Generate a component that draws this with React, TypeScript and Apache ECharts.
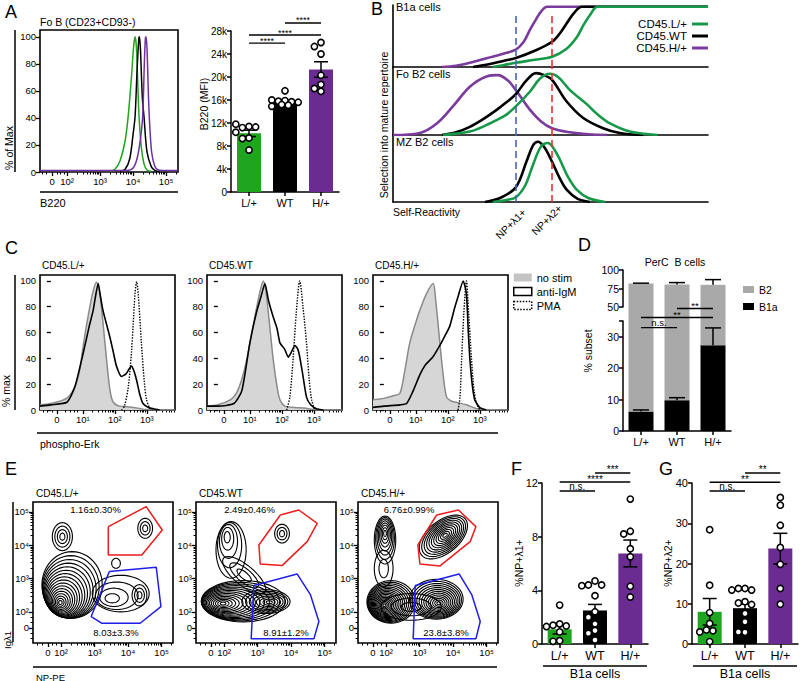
import React, { useEffect, useRef } from 'react';
import * as echarts from 'echarts';

const FONT = '"Liberation Sans", Arial, Helvetica, "DejaVu Sans", sans-serif';

// ================= Panel A =================
const aHistGreen = [[3.3, 0.5], [3.45, 2], [3.6, 8], [3.75, 22], [3.85, 41], [3.95, 70], [4.02, 94], [4.06, 100], [4.1, 92], [4.18, 41], [4.25, 18], [4.33, 6], [4.42, 1.5], [4.55, 0.5]];
const aHistBlack = [[3.6, 0.5], [3.76, 2], [3.9, 10], [4.0, 28], [4.06, 41], [4.12, 75], [4.17, 98], [4.19, 100], [4.22, 92], [4.28, 55], [4.33, 41], [4.42, 15], [4.55, 4], [4.67, 1], [4.8, 0.5]];
const aHistPurple = [[1.18, 1.2], [3.8, 1.2], [4.0, 3], [4.12, 10], [4.22, 24], [4.29, 41], [4.34, 80], [4.37, 98], [4.39, 100], [4.42, 92], [4.46, 60], [4.49, 41], [4.56, 15], [4.66, 4], [4.76, 1.5], [4.9, 1.2], [5.36, 1.2]];
const groups = ['L/+', 'WT', 'H/+'];
const aMeans = [10200, 15600, 21300];
const aSem = [550, 300, 1350];
const aPoints = [
  [11400, 11200, 11300, 11800, 9400, 9300, 10400, 7300],
  [17600, 15900, 15800, 15700, 16000, 15600, 15200, 14900, 15100],
  [26000, 25300, 24000, 20300, 18700, 17500, 18000],
];
const aSig: [number, number, number, string][] = [[1, 2, 29400, '****'], [0, 2, 27300, '****'], [0, 1, 25900, '****']];

// ================= Panel B =================
const bLegend = ['CD45.L/+', 'CD45.WT', 'CD45.H/+'];
const b1aGreen = [[31.7, 0], [35, 0.03], [39, 0.07], [45, 0.12], [50.5, 0.17], [55, 0.3], [58.4, 0.5], [60.5, 0.7], [62.5, 0.86], [65, 1], [100, 1]];
const b1aBlack = [[25.4, 0], [30, 0.04], [35, 0.1], [39, 0.15], [45, 0.27], [50.5, 0.42], [53, 0.56], [55.2, 0.73], [57.5, 0.9], [60, 1], [100, 1]];
const b1aPurple = [[15.6, 0], [20, 0.02], [24.4, 0.07], [30, 0.15], [35, 0.22], [39, 0.29], [41.5, 0.42], [43.5, 0.62], [45.5, 0.8], [47, 0.92], [48.9, 1], [100, 1]];
const foGreen = [[15.9, 0], [20, 0.02], [24.4, 0.05], [28.5, 0.12], [32.9, 0.22], [36, 0.3], [39, 0.42], [43.5, 0.64], [46.7, 0.83], [49.8, 0.9], [52.5, 0.85], [56.2, 0.66], [61.6, 0.45], [65, 0.3], [68.9, 0.17], [75.2, 0.05], [84, 0]];
const foBlack = [[15.6, 0], [20, 0.04], [24.4, 0.12], [28.5, 0.23], [32.9, 0.37], [36, 0.48], [39, 0.6], [42.3, 0.8], [45.4, 0.91], [48, 0.88], [50.5, 0.81], [55, 0.5], [60.4, 0.25], [66.7, 0.1], [72, 0.03], [79.4, 0]];
const foPurple = [[0, 0], [8.5, 0.03], [13.9, 0.17], [19, 0.42], [24.4, 0.71], [29.7, 0.86], [33.3, 0.88], [36.5, 0.8], [39, 0.66], [43.5, 0.37], [47, 0.2], [50.5, 0.1], [56.2, 0.04], [62, 0.01], [68, 0]];
const mzGreen = [[31.7, 0], [36, 0.03], [39, 0.07], [42, 0.25], [44.4, 0.55], [47, 0.83], [49.2, 0.88], [51, 0.8], [53, 0.63], [55.5, 0.38], [58.4, 0.18], [62, 0.06], [67.3, 0]];
const mzBlack = [[29.2, 0], [34, 0.06], [39, 0.22], [42.5, 0.62], [44.5, 0.85], [46, 0.9], [48, 0.82], [50.5, 0.6], [53, 0.35], [55.2, 0.18], [58.5, 0.05], [62.5, 0]];
const bNp1 = 39;
const bNp2 = 50.5;

// ================= Panel C =================
const cNames = ['CD45.L/+', 'CD45.WT', 'CD45.H/+'];
const cNoStim = [
  [[-0.34, 4], [0, 5], [0.49, 9], [0.75, 18], [0.9, 31], [1.0, 48], [1.11, 65], [1.3, 90], [1.43, 99], [1.53, 90], [1.62, 70], [1.74, 39], [1.85, 15], [1.95, 6], [2.15, 3], [2.37, 2.6], [2.6, 2], [2.8, 1], [3.0, 0.3], [3.88, 0]],
  [[-0.34, 3], [0, 4], [0.4, 8], [0.58, 13], [0.75, 24], [0.9, 39], [1.1, 65], [1.3, 90], [1.42, 100], [1.5, 92], [1.6, 70], [1.73, 39], [1.85, 18], [1.94, 8], [2.1, 3], [2.4, 2], [2.7, 1.5], [3.0, 0.3], [3.88, 0]],
  [[-0.34, 8], [0, 9], [0.3, 11], [0.5, 13], [0.65, 30], [0.81, 52], [1.0, 68], [1.12, 77], [1.33, 90], [1.54, 98], [1.62, 85], [1.75, 52], [1.85, 28], [1.96, 10], [2.1, 7], [2.27, 6], [2.58, 4], [2.9, 1], [3.1, 0.3], [3.88, 0]],
];
const cAntiIgM = [
  [[-0.34, 3], [0, 4], [0.5, 6], [0.75, 18], [1.01, 44], [1.2, 65], [1.32, 77], [1.48, 98], [1.55, 88], [1.63, 77], [1.84, 57], [1.95, 45], [2.05, 34], [2.21, 26], [2.35, 28], [2.45, 32], [2.52, 34], [2.6, 30], [2.68, 23], [2.78, 12], [2.88, 5], [3.05, 2], [3.2, 1], [3.4, 0]],
  [[-0.34, 3], [0, 3], [0.5, 5], [0.75, 15], [1.0, 52], [1.2, 75], [1.35, 88], [1.47, 98], [1.58, 85], [1.73, 72], [1.85, 63], [1.94, 52], [2.09, 47], [2.2, 41], [2.3, 45], [2.41, 50], [2.5, 47], [2.56, 41], [2.65, 28], [2.77, 10], [2.9, 4], [3.08, 1], [3.3, 0]],
  [[-0.34, 2], [0, 3], [0.5, 4], [0.71, 5], [0.9, 14], [1.12, 27], [1.3, 35], [1.53, 41], [1.75, 50], [1.9, 57], [2.06, 65], [2.2, 78], [2.32, 88], [2.48, 100], [2.58, 90], [2.64, 60], [2.69, 39], [2.76, 20], [2.84, 8], [2.99, 2], [3.2, 0]],
];
const cPMA = [
  [[2.21, 0], [2.3, 3], [2.42, 18], [2.52, 45], [2.57, 65], [2.63, 90], [2.68, 99.5], [2.73, 90], [2.83, 52], [2.92, 22], [2.99, 8], [3.08, 2], [3.15, 0]],
  [[2.15, 0], [2.25, 10], [2.35, 39], [2.45, 75], [2.56, 100], [2.66, 80], [2.77, 52], [2.85, 25], [2.93, 8], [3.03, 0]],
  [[2.32, 0], [2.38, 10], [2.43, 39], [2.5, 75], [2.58, 100], [2.65, 75], [2.74, 39], [2.82, 15], [2.9, 5], [3.0, 0]],
];

// ================= Panel D =================
const dB1a = [6.2, 9.8, 27.3];
const dB1aErr = [0.5, 0.8, 5.5];
const dTotal = [81.8, 80.4, 80.0];
const dTotalErr = [0.4, 2.6, 7.0];
const dSig: [number, number, number, string][] = [[0, 1, 32.9, 'n.s.'], [0, 2, 36.1, '**'], [1, 2, 39.0, '**']];

// ================= Panel E =================
// contour populations: core x, core y, outer-ring shift x, shift y, outer rx, outer ry, rings, angle
const eNames = ['CD45.L/+', 'CD45.WT', 'CD45.H/+'];
const eBlobs = [
  [
    [1.98, 2.28, 0.35, 0.53, 0.9, 1.0, 17, 0],
    [2.04, 4.26, 0, 0, 0.3, 0.42, 4, 0],
    [3.64, 3.46, 0, 0, 0.13, 0.15, 1, 0],
    [3.51, 2.4, 0.27, 0.15, 0.85, 0.55, 4, 0],
    [4.34, 2.5, 0, 0, 0.22, 0.32, 3, 0],
    [4.51, 4.51, 0, 0, 0.22, 0.3, 3, 0],
  ],
  [
    [1.97, 2.25, 0.6, 0.07, 1.25, 0.62, 15, 0],
    [3.35, 2.29, -0.1, 0.02, 0.72, 0.36, 8, 0],
    [2.09, 4.26, 0.12, -0.4, 0.45, 0.85, 5, 0],
    [2.6, 3.1, 0, 0, 0.8, 0.3, 3, -40],
    [3.73, 4.35, 0, 0, 0.22, 0.28, 3, 0],
  ],
  [
    [1.95, 2.2, 0.2, 0.1, 0.72, 0.64, 17, 0],
    [1.97, 4.36, 0, -0.2, 0.32, 0.72, 8, 0],
    [1.93, 3.3, 0, 0, 0.28, 0.55, 2, 0],
    [3.76, 4.3, -0.05, -0.05, 0.85, 0.48, 11, 40],
    [3.58, 2.26, -0.08, 0.12, 0.8, 0.6, 13, 0],
    [2.75, 2.15, 0, 0, 0.9, 0.4, 3, 0],
  ],
];
const eRedGates = [
  [[3.41, 4.56], [4.54, 5.16], [5.02, 4.46], [4.41, 3.71], [3.41, 3.71]],
  [[3.68, 4.91], [4.23, 5.06], [4.78, 4.66], [4.48, 4.11], [3.73, 3.39], [3.08, 3.44], [3.04, 4.01]],
  [[3.51, 4.91], [4.16, 5.06], [4.68, 4.56], [4.51, 4.11], [3.61, 3.38], [3.01, 3.44], [2.95, 4.01]],
];
const eBlueGates = [
  [[3.44, 3.21], [4.84, 3.34], [4.98, 2.16], [4.36, 1.66], [3.21, 1.66], [2.9, 1.86]],
  [[2.89, 2.79], [4.18, 3.14], [4.58, 2.51], [4.83, 1.71], [4.68, 1.19], [2.81, 1.19]],
  [[2.87, 2.79], [4.18, 3.14], [4.56, 2.51], [4.81, 1.71], [4.68, 1.19], [2.81, 1.19]],
];
const eRedPct = ['1.16±0.30%', '2.49±0.46%', '6.76±0.99%'];
const eBluePct = ['8.03±3.3%', '8.91±1.2%', '23.8±3.8%'];

// ================= Panels F, G =================
const fMeans = [1.1, 2.5, 6.75];
const fSem = [0.35, 0.45, 1.0];
const fPoints = [
  [2.9, 1.5, 1.4, 1.35, 1.3, 0.9, 0.25, 0.2],
  [4.7, 4.4, 4.4, 4.35, 3.6, 2.4, 2.0, 1.5, 1.0, 0.8, 0.3],
  [10.8, 8.4, 8.2, 7.1, 6.5, 4.3, 3.5],
];
const fSig: [number, number, number, string][] = [[1, 2, 12.75, '***'], [0, 2, 12.07, '****'], [0, 1, 11.4, 'n.s.']];
const gMeans = [8.0, 8.9, 23.7];
const gSem = [3.3, 1.0, 3.8];
const gPoints = [
  [28.4, 14.6, 7.8, 5.1, 3.5, 3.3, 3.0, 0.6],
  [13.8, 13.8, 13.4, 13.4, 10.5, 10.2, 9.8, 7.6, 5.5, 2.9, 3.0],
  [36.4, 34.5, 29.5, 24, 19.8, 13.8, 9.9],
];
const gSig: [number, number, number, string][] = [[1, 2, 42.5, '**'], [0, 2, 40.2, '**'], [0, 1, 38.0, 'n.s.']];

const GREEN = '#1fa51f';
const PURPLE = '#6a2c90';
const BAR_COLORS = [GREEN, '#000000', PURPLE];
const LINE_GREEN = '#17994a';
const LINE_PURPLE = '#7a3b9c';

const txt = (extra: any = {}) => ({ fontFamily: FONT, color: '#000', ...extra });

function logMinor(from: number, max: number, extra: number[]) {
  const out = [...extra];
  for (let n = from; n < Math.ceil(max); n++) for (let k = 2; k <= 9; k++) {
    const v = n + Math.log10(k);
    if (v < max) out.push(v);
  }
  return out;
}

function buildOption() {
  const grid: any[] = [];
  const xAxis: any[] = [];
  const yAxis: any[] = [];
  const series: any[] = [];
  const graphic: any[] = [];
  const legend: any[] = [];

  const addGrid = (left: number, top: number, width: number, height: number, frame = false) => {
    grid.push({ left, top, width, height, containLabel: false, outerBoundsMode: 'none', show: frame, borderColor: '#000', borderWidth: 1.6, backgroundColor: 'transparent' });
    return grid.length - 1;
  };

  const flowAxis = (g: number, dim: 'x' | 'y', min: number, max: number, labels: [number, string][], minor: number[], fontSize = 9.5) => {
    const arr = dim === 'x' ? xAxis : yAxis;
    const base = { gridIndex: g, type: 'value', min, max, position: dim === 'x' ? 'bottom' : 'left', splitLine: { show: false }, axisLine: { show: false } };
    const vals = labels.map((l) => l[0]);
    arr.push({
      ...base,
      axisTick: { show: true, customValues: vals, length: 4, lineStyle: { color: '#000', width: 1.3 } },
      axisLabel: {
        show: true, customValues: vals, margin: 4, ...txt({ fontSize }),
        formatter: (v: number) => { const f = labels.find((l) => Math.abs(l[0] - v) < 1e-6); return f ? f[1] : ''; },
      },
    });
    const main = arr.length - 1;
    if (minor.length) {
      arr.push({ ...base, axisTick: { show: true, customValues: minor, length: 2.5, lineStyle: { color: '#000', width: 1 } }, axisLabel: { show: false } });
    }
    return main;
  };

  const catX = (g: number, fontSize: number, show = true) => {
    xAxis.push({
      gridIndex: g, type: 'category', data: groups, show,
      axisLine: { show: true, lineStyle: { color: '#000', width: 1.5 } },
      axisTick: { show: true, alignWithLabel: true, length: 4, lineStyle: { color: '#000', width: 1.5 } },
      axisLabel: { show: true, margin: 5, ...txt({ fontSize }) },
      splitLine: { show: false },
    });
    return xAxis.length - 1;
  };

  const valY = (g: number, min: number, max: number, ticks: number[], labelVals: number[], fmt: (v: number) => string, fontSize: number, show = true) => {
    yAxis.push({
      gridIndex: g, type: 'value', min, max, show,
      axisLine: { show: true, lineStyle: { color: '#000', width: 1.5 } },
      axisTick: { show: true, customValues: ticks, length: 4, lineStyle: { color: '#000', width: 1.5 } },
      axisLabel: { show: true, customValues: labelVals, margin: 4, formatter: fmt, ...txt({ fontSize }) },
      splitLine: { show: false },
    });
    return yAxis.length - 1;
  };

  const curve = (xi: number, yi: number, data: number[][], color: string, width = 1.5, extra: any = {}) => ({
    type: 'line', xAxisIndex: xi, yAxisIndex: yi, data, symbol: 'none', showSymbol: false, smooth: 0.3,
    lineStyle: { color, width }, itemStyle: { color }, silent: true, ...extra,
  });

  const pointsSeries = (xi: number, yi: number, pts: number[][], pxPerUnit: number) => {
    const data: number[][] = [];
    const d = 6.6;
    const cands = [0, -d / 2, d / 2, -d, d, -1.5 * d, 1.5 * d, -2 * d, 2 * d];
    pts.forEach((arr, gi) => {
      const placed: number[][] = [];
      arr.forEach((v) => {
        const yPx = v * pxPerUnit;
        let chosen = 0;
        let bestScore = -Infinity;
        for (const c of cands) {
          const minD = placed.reduce((m, p) => Math.min(m, Math.hypot(p[0] - c, p[1] - yPx)), Infinity);
          if (minD >= d) { chosen = c; bestScore = Infinity; break; }
          if (minD > bestScore) { bestScore = minD; chosen = c; }
        }
        placed.push([chosen, yPx]);
        data.push([gi, v, chosen]);
      });
    });
    return {
      type: 'custom', xAxisIndex: xi, yAxisIndex: yi, data, z: 6, silent: true,
      renderItem: (_p: any, api: any) => {
        const p = api.coord([api.value(0), api.value(1)]);
        return { type: 'circle', shape: { cx: p[0] + api.value(2), cy: p[1], r: 3.1 }, style: { fill: '#fff', stroke: '#000', lineWidth: 1.6 } };
      },
    };
  };

  const errSeries = (xi: number, yi: number, means: number[], errs: number[], cap: number, down = true) => ({
    type: 'custom', xAxisIndex: xi, yAxisIndex: yi, z: 5, silent: true,
    data: means.map((m, i) => [i, m, errs[i]]),
    renderItem: (_p: any, api: any) => {
      const i = api.value(0), m = api.value(1), e = api.value(2);
      const top = api.coord([i, m + e]);
      const bot = api.coord([i, down ? m - e : m]);
      const st = { stroke: '#000', lineWidth: 1.5 };
      const ch: any[] = [
        { type: 'line', shape: { x1: top[0], y1: top[1], x2: bot[0], y2: bot[1] }, style: st },
        { type: 'line', shape: { x1: top[0] - cap / 2, y1: top[1], x2: top[0] + cap / 2, y2: top[1] }, style: st },
      ];
      if (down) ch.push({ type: 'line', shape: { x1: bot[0] - cap / 2, y1: bot[1], x2: bot[0] + cap / 2, y2: bot[1] }, style: st });
      return { type: 'group', children: ch };
    },
  });

  const sigSeries = (xi: number, yi: number, sig: [number, number, number, string][], fontSize: number) => ({
    type: 'custom', xAxisIndex: xi, yAxisIndex: yi, z: 5, silent: true, clip: false,
    data: sig.map((s) => [s[0], s[1], s[2]]),
    renderItem: (params: any, api: any) => {
      const s = sig[params.dataIndex];
      const a = api.coord([s[0], s[2]]);
      const b = api.coord([s[1], s[2]]);
      return {
        type: 'group', children: [
          { type: 'line', shape: { x1: a[0], y1: a[1], x2: b[0], y2: b[1] }, style: { stroke: '#000', lineWidth: 1.4 } },
          { type: 'text', x: (a[0] + b[0]) / 2, y: a[1] + (s[3] === 'n.s.' ? 0 : 2), style: { text: s[3], fill: '#000', fontSize, fontFamily: FONT, align: 'center', verticalAlign: 'bottom' } },
        ],
      };
    },
  });

  const contourSeries = (xi: number, yi: number, blobs: number[][]) => ({
    type: 'custom', xAxisIndex: xi, yAxisIndex: yi, data: blobs, silent: true, clip: true,
    renderItem: (_p: any, api: any) => {
      const cx = api.value(0), cy = api.value(1), sx = api.value(2), sy = api.value(3);
      const rx = api.value(4), ry = api.value(5), n = api.value(6);
      const ang = (api.value(7) * Math.PI) / 180;
      const children: any[] = [];
      for (let r = 1; r <= n; r++) {
        const s = r / n;
        const ccx = cx + sx * s * s, ccy = cy + sy * s * s;
        const pts: number[][] = [];
        for (let k = 0; k < 48; k++) {
          const t = (k / 48) * Math.PI * 2;
          const dx = rx * s * Math.cos(t), dy = ry * s * Math.sin(t);
          pts.push(api.coord([ccx + dx * Math.cos(ang) - dy * Math.sin(ang), ccy + dx * Math.sin(ang) + dy * Math.cos(ang)]));
        }
        children.push({ type: 'polygon', shape: { points: pts, smooth: 0 }, style: { fill: 'none', stroke: '#000', lineWidth: 1.1 } });
      }
      return { type: 'group', children };
    },
  });

  const T = (text: string, x: number, y: number, size = 11, opts: any = {}) => ({
    type: 'text', x, y, silent: true, rotation: opts.rot || 0,
    style: { text, fill: '#000', fontSize: size, fontFamily: FONT, align: opts.align || 'left', verticalAlign: opts.va || 'middle' },
  });
  const L = (x1: number, y1: number, x2: number, y2: number, w = 1.5, color = '#000') => ({
    type: 'line', silent: true, shape: { x1, y1, x2, y2 }, style: { stroke: color, lineWidth: w },
  });

  // ---------- Panel A histogram ----------
  {
    const g = addGrid(40, 30, 138, 142, true);
    const xi = flowAxis(g, 'x', 1.18, 5.36, [[1.545, '0'], [2, '10²'], [3, '10³'], [4, '10⁴'], [5, '10⁵']], logMinor(2, 5.36, [1.25, 1.38, 1.7, 1.8, 1.9]));
    const yi = flowAxis(g, 'y', 0, 105, [[0, '0'], [20, '20'], [40, '40'], [60, '60'], [80, '80'], [100, '100']], []);
    series.push(curve(xi, yi, aHistGreen, GREEN));
    series.push(curve(xi, yi, aHistBlack, '#000'));
    series.push(curve(xi, yi, aHistPurple, '#7030a0'));
    graphic.push(T('Fo B (CD23+CD93-)', 40, 22, 10.5));
    graphic.push(L(15, 30, 15, 172, 1.5));
    graphic.push(T('% of Max', 8.5, 148, 10.5, { rot: Math.PI / 2, align: 'center' }));
    graphic.push(L(40, 192, 178, 192, 1.5));
    graphic.push(T('B220', 40, 203, 11));
  }

  // ---------- Panel A bars ----------
  {
    const g = addGrid(231, 31, 108, 161);
    const xi = catX(g, 11);
    const ticks = [0, 4000, 8000, 12000, 16000, 20000, 24000, 28000];
    const yi = valY(g, 0, 28000, ticks, ticks, (v) => (v === 0 ? '0' : v / 1000 + 'k'), 10);
    series.push({ type: 'bar', xAxisIndex: xi, yAxisIndex: yi, barWidth: 24, silent: true, data: aMeans.map((v, i) => ({ value: v, itemStyle: { color: BAR_COLORS[i] } })) });
    series.push(errSeries(xi, yi, aMeans, aSem, 14));
    series.push(pointsSeries(xi, yi, aPoints, 161 / 28000));
    series.push(sigSeries(xi, yi, aSig, 9));
    graphic.push(T('B220 (MFI)', 204, 104, 10.5, { rot: Math.PI / 2, align: 'center' }));
  }

  // ---------- Panel B ----------
  {
    const specs = [
      { top: 5, h: 62, max: 1.03, curves: [b1aPurple, b1aBlack, b1aGreen], title: 'B1a cells', ty: 7, dashTop: 0.9 },
      { top: 67, h: 68, max: 1, curves: [foPurple, foBlack, foGreen], title: 'Fo B2 cells', ty: 74, dashTop: 1 },
      { top: 135, h: 67, max: 1, curves: [null, mzBlack, mzGreen], title: 'MZ B2 cells', ty: 142, dashTop: 1 },
    ];
    const colors = [LINE_PURPLE, '#000', LINE_GREEN];
    const names = [bLegend[2], bLegend[1], bLegend[0]];
    specs.forEach((sp) => {
      const g = addGrid(393, sp.top, 315, sp.h);
      xAxis.push({ gridIndex: g, type: 'value', min: 0, max: 100, axisLine: { show: true, lineStyle: { color: '#000', width: 1.6 } }, axisTick: { show: false }, axisLabel: { show: false }, splitLine: { show: false } });
      const xi = xAxis.length - 1;
      yAxis.push({ gridIndex: g, type: 'value', min: 0, max: sp.max, axisLine: { show: true, lineStyle: { color: '#000', width: 1.6 } }, axisTick: { show: false }, axisLabel: { show: false }, splitLine: { show: false } });
      const yi = yAxis.length - 1;
      series.push({
        type: 'line', xAxisIndex: xi, yAxisIndex: yi, data: [], silent: true,
        markLine: {
          silent: true, symbol: ['none', 'none'], label: { show: false },
          lineStyle: { type: [7, 4], width: 1.6 },
          data: [
            [{ coord: [bNp1, 0], lineStyle: { color: '#4a64b8', type: [7, 4], width: 1.6 } }, { coord: [bNp1, sp.dashTop] }],
            [{ coord: [bNp2, 0], lineStyle: { color: '#ee2d2d', type: [7, 4], width: 1.6 } }, { coord: [bNp2, sp.dashTop] }],
          ],
        },
      });
      sp.curves.forEach((c, i) => {
        if (c) series.push(curve(xi, yi, c, colors[i], 2.6, { name: names[i], smooth: 0.35 }));
      });
      graphic.push(T(sp.title, 396, sp.ty, 11));
    });
    legend.push({
      data: bLegend, orient: 'vertical', right: 92, top: 18, align: 'right', icon: 'rect', itemWidth: 16, itemHeight: 3,
      itemGap: 0, selectedMode: false, padding: 0, textStyle: txt({ fontSize: 11.5, lineHeight: 11 }),
    });
    graphic.push(T('Self-Reactivity', 393, 212, 10.5));
    graphic.push(T('Selection into mature repertoire', 383.5, 125, 10.5, { rot: Math.PI / 2, align: 'center' }));
    graphic.push(T('NP+λ1+', 511, 224, 10.5, { rot: Math.PI / 4, align: 'center' }));
    graphic.push(T('NP+λ2+', 547, 220, 10.5, { rot: Math.PI / 4, align: 'center' }));
  }

  // ---------- Panel C ----------
  {
    const lefts = [40, 207, 373];
    lefts.forEach((left, k) => {
      const g = addGrid(left, 275, 135, 135, true);
      const xi = flowAxis(g, 'x', -0.34, 3.88, [[0.19, '0'], [1, '10¹'], [2, '10²'], [3, '10³']], logMinor(1, 3.88, [-0.25, -0.1, 0.05, 0.45, 0.6, 0.72, 0.84]));
      const yi = flowAxis(g, 'y', 0, 104.6, [[0, '0'], [20, '20'], [40, '40'], [60, '60'], [80, '80'], [100, '100']], []);
      series.push(curve(xi, yi, cNoStim[k], '#8a8a8a', 1.5, { name: 'no stim', areaStyle: { color: '#d6d6d6', opacity: 1 } }));
      series.push(curve(xi, yi, cAntiIgM[k], '#000', 1.6, { name: 'anti-IgM', smooth: 0.2 }));
      series.push(curve(xi, yi, cPMA[k], '#000', 1.4, { name: 'PMA', lineStyle: { color: '#000', width: 1.4, type: 'dotted' } }));
      graphic.push(T(cNames[k], left + 2, 265, 10));
    });
    legend.push({
      data: [
        { name: 'no stim', itemStyle: { color: '#c4c4c4', borderWidth: 0 } },
        { name: 'anti-IgM', itemStyle: { color: '#fff', borderColor: '#000', borderWidth: 1.5 } },
        { name: 'PMA', itemStyle: { color: '#fff', borderColor: '#000', borderWidth: 1.5, borderType: 'dotted' } },
      ],
      orient: 'vertical', left: 513, top: 272, icon: 'rect', itemWidth: 18, itemHeight: 8, itemGap: 3, selectedMode: false, padding: 0,
      textStyle: txt({ fontSize: 11, lineHeight: 9 }),
    });
    graphic.push(L(15, 275, 15, 410, 1.5));
    graphic.push(T('% max', 6, 391, 10.5, { rot: Math.PI / 2, align: 'center' }));
    graphic.push(L(37, 433, 498, 433, 1.5));
    graphic.push(T('phospho-Erk', 40, 444, 10.5));
  }

  // ---------- Panel D ----------
  {
    const gLow = addGrid(623, 321, 108, 110);
    const gUp = addGrid(623, 270, 108, 37);
    const gGap = addGrid(623, 307, 108, 14);
    const xLow = catX(gLow, 11);
    xAxis.push({ gridIndex: gUp, type: 'category', data: groups, show: false });
    const xUp = xAxis.length - 1;
    xAxis.push({ gridIndex: gGap, type: 'category', data: groups, show: false });
    const xGap = xAxis.length - 1;
    const yLow = valY(gLow, 0, 35, [0, 10, 20, 30, 35], [0, 10, 20, 30], (v) => String(v), 10.5);
    const yUp = valY(gUp, 50, 100, [50, 75, 100], [50, 75, 100], (v) => String(v), 10.5);
    yAxis.push({ gridIndex: gGap, type: 'value', min: 35, max: 50, show: false });
    const yGap = yAxis.length - 1;
    const GRAY = '#a9a9a9';
    series.push({ type: 'bar', name: 'B1a', xAxisIndex: xLow, yAxisIndex: yLow, stack: 'd', barWidth: 25, silent: true, itemStyle: { color: '#000' }, data: dB1a });
    series.push({ type: 'bar', name: 'B2', xAxisIndex: xLow, yAxisIndex: yLow, stack: 'd', barWidth: 25, silent: true, itemStyle: { color: GRAY }, data: dTotal.map((t, i) => +(t - dB1a[i]).toFixed(2)) });
    series.push({ type: 'bar', name: 'B2', xAxisIndex: xUp, yAxisIndex: yUp, barWidth: 25, silent: true, itemStyle: { color: GRAY }, data: dTotal });
    series.push({ type: 'bar', name: 'B2', xAxisIndex: xGap, yAxisIndex: yGap, barWidth: 25, silent: true, itemStyle: { color: GRAY }, data: dTotal });
    series.push(errSeries(xLow, yLow, dB1a, dB1aErr, 16, false));
    series.push(errSeries(xUp, yUp, dTotal, dTotalErr, 16, false));
    series.push(sigSeries(xLow, yLow, dSig, 9.5));
    legend.push({
      data: ['B2', 'B1a'], orient: 'vertical', left: 743, top: 284, icon: 'rect', itemWidth: 11, itemHeight: 7, itemGap: 6,
      selectedMode: false, padding: 0, textStyle: txt({ fontSize: 10.5, lineHeight: 8 }),
    });
    graphic.push(T('PerC  B cells', 675, 262, 10.5, { align: 'center' }));
    graphic.push(T('% subset', 588, 351, 10.5, { rot: Math.PI / 2, align: 'center' }));
  }

  // ---------- Panel E ----------
  {
    const lefts = [33, 196, 358];
    lefts.forEach((left, k) => {
      const g = addGrid(left, 502, 140, 141, true);
      const xi = flowAxis(g, 'x', 1.164, 5.34, [[1.61, '0'], [2, '10²'], [3, '10³'], [4, '10⁴'], [5, '10⁵']], logMinor(2, 5.34, [1.3, 1.45, 1.75, 1.87]));
      const yi = flowAxis(g, 'y', 1.066, 5.3, [[1.52, '0'], [2, '10²'], [3, '10³'], [4, '10⁴'], [5, '10⁵']], logMinor(2, 5.3, [1.2, 1.35, 1.7, 1.85]));
      series.push(contourSeries(xi, yi, eBlobs[k]));
      series.push(curve(xi, yi, [...eRedGates[k], eRedGates[k][0]], '#ee1c1c', 1.5, { smooth: false }));
      series.push(curve(xi, yi, [...eBlueGates[k], eBlueGates[k][0]], '#1f1fe6', 1.5, { smooth: false }));
      graphic.push(T(eNames[k], left + 3, 493, 10));
    });
    graphic.push(T(eRedPct[0], 95.5, 509, 9.5, { align: 'center' }));
    graphic.push(T(eBluePct[0], 116, 632, 9.5, { align: 'center' }));
    graphic.push(T(eRedPct[1], 249.5, 509, 9.5, { align: 'center' }));
    graphic.push(T(eBluePct[1], 286, 632, 9.5, { align: 'center' }));
    graphic.push(T(eRedPct[2], 409, 509, 9.5, { align: 'center' }));
    graphic.push(T(eBluePct[2], 446, 632, 9.5, { align: 'center' }));
    graphic.push(L(13, 502, 13, 642, 1.5));
    graphic.push(T('Igλ1', 7, 640, 9.5, { rot: Math.PI / 2, align: 'center' }));
    graphic.push(L(33, 667, 497, 667, 1.5));
    graphic.push(T('NP-PE', 36, 677, 9.5));
  }

  // ---------- Panels F & G ----------
  {
    const specs = [
      { left: 542, max: 12, ticks: [0, 4, 8, 12], means: fMeans, sem: fSem, pts: fPoints, sig: fSig, name: '%NP+λ1+', nx: 519, ux1: 543, ux2: 647 },
      { left: 692, max: 40, ticks: [0, 10, 20, 30, 40], means: gMeans, sem: gSem, pts: gPoints, sig: gSig, name: '%NP+λ2+', nx: 668, ux1: 693, ux2: 797 },
    ];
    specs.forEach((sp) => {
      const g = addGrid(sp.left, 483, 106, 161);
      const xi = catX(g, 12.5);
      const yi = valY(g, 0, sp.max, sp.ticks, sp.ticks, (v) => String(v), 11);
      series.push({ type: 'bar', xAxisIndex: xi, yAxisIndex: yi, barWidth: 24, silent: true, data: sp.means.map((v, i) => ({ value: v, itemStyle: { color: BAR_COLORS[i] } })) });
      series.push(errSeries(xi, yi, sp.means, sp.sem, 14));
      series.push(pointsSeries(xi, yi, sp.pts, 161 / sp.max));
      series.push(sigSeries(xi, yi, sp.sig, 10));
      graphic.push(T(sp.name, sp.nx, 563, 10.5, { rot: Math.PI / 2, align: 'center' }));
      graphic.push(L(sp.ux1, 666, sp.ux2, 666, 1.5));
      graphic.push(T('B1a cells', (sp.ux1 + sp.ux2) / 2, 674, 12.5, { align: 'center' }));
    });
  }

  // ---------- Panel letters ----------
  const letters: [string, number, number][] = [['A', 5, 12], ['B', 371, 9], ['C', 5, 248], ['D', 578, 245], ['E', 5, 469], ['F', 511, 469], ['G', 659, 469]];
  letters.forEach(([s, x, y]) => graphic.push(T(s, x, y, 18)));

  return {
    animation: false,
    backgroundColor: '#fff',
    textStyle: { fontFamily: FONT },
    grid, xAxis, yAxis, series, legend,
    graphic: { elements: graphic },
  };
}

export default function App() {
  const ref = useRef<HTMLDivElement>(null);
  useEffect(() => {
    document.body.style.margin = '0';
    const chart = echarts.init(ref.current as HTMLDivElement, null, { renderer: 'svg', width: 800, height: 681 });
    chart.setOption(buildOption() as any);
    return () => chart.dispose();
  }, []);
  return <div ref={ref} style={{ position: 'absolute', left: 0, top: 0, width: 800, height: 681, background: '#fff' }} />;
}
